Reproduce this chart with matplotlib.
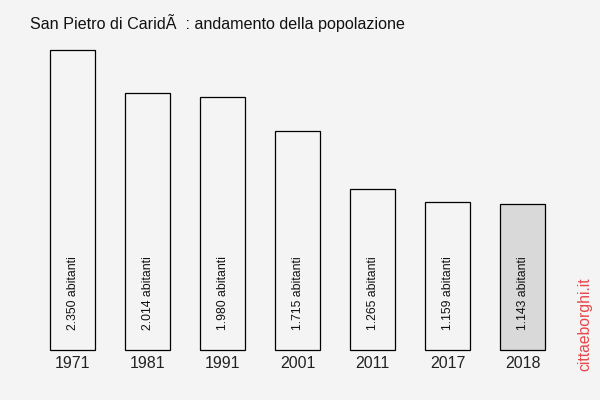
import matplotlib
matplotlib.use("Agg")
import matplotlib.pyplot as plt

# Dati
anni = ["1971", "1981", "1991", "2001", "2011", "2017", "2018"]
abitanti = [2350, 2014, 1980, 1715, 1265, 1159, 1143]
etichette = ["2.350 abitanti", "2.014 abitanti", "1.980 abitanti", "1.715 abitanti",
             "1.265 abitanti", "1.159 abitanti", "1.143 abitanti"]
titolo = "San Pietro di Carid\u00c3\u00a0 : andamento della popolazione"

plt.rcParams["font.family"] = ["Liberation Sans", "DejaVu Sans"]
BG = "#f4f4f4"

fig = plt.figure(figsize=(6, 4), dpi=100, facecolor=BG)
ax = fig.add_axes([35 / 600, 50 / 400, 525 / 600, 300 / 400], facecolor=BG)

x = range(len(anni))
colori = [BG] * (len(anni) - 1) + ["#d9d9d9"]
bars = ax.bar(x, abitanti, width=0.6, color=colori, edgecolor="black", linewidth=0.9)
for b in bars:
    b.set_clip_on(False)

for i, t in enumerate(etichette):
    ax.text(i + 0.01, 155, t, rotation=90, ha="center", va="bottom", fontsize=8.8, color="#111111")

ax.set_xlim(-0.5, len(anni) - 0.5)
ax.set_ylim(0, max(abitanti))
ax.set_xticks(list(x))
ax.set_xticklabels(anni, fontsize=11.5, color="#222222")
ax.tick_params(axis="x", length=0, pad=4)
ax.set_yticks([])
for s in ax.spines.values():
    s.set_visible(False)

fig.text(30 / 600, 1 - 23 / 400, titolo, fontsize=11.6, ha="left", va="center", color="#111111")
fig.text(585 / 600, 1 - 324 / 400, "cittaeborghi.it", rotation=90, fontsize=11.3,
         ha="center", va="center", color="#e8474b")

fig.savefig("out.png", dpi=100, facecolor=BG)
